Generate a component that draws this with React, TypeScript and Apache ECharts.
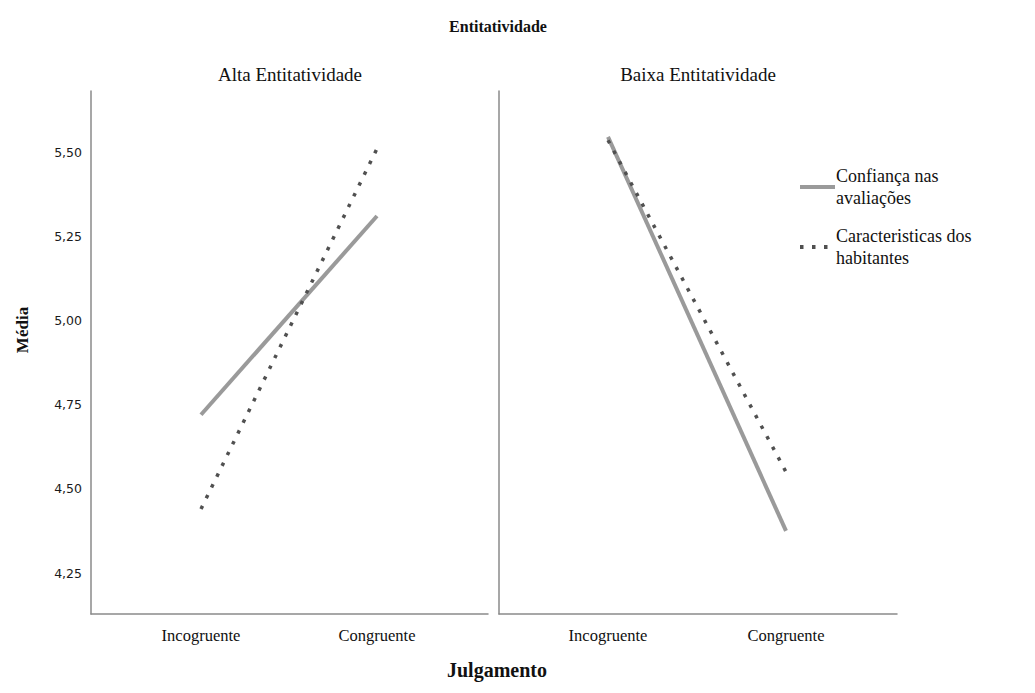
import React, { useEffect, useRef } from 'react';
import * as echarts from 'echarts';

const categories = ['Incogruente', 'Congruente'];
const panelTitles = ['Alta Entitatividade', 'Baixa Entitatividade'];
const seriesNames = ['Confiança nas avaliações', 'Caracteristicas dos habitantes'];
const legendLabels = ['Confiança nas\navaliações', 'Caracteristicas dos\nhabitantes'];
const confiancaAlta = [4.72, 5.31];
const caracteristicasAlta = [4.44, 5.51];
const confiancaBaixa = [5.545, 4.375];
const caracteristicasBaixa = [5.535, 4.55];
const yMin = 4.0;
const yMax = 5.75;
const yStep = 0.25;

const SERIF = "'Liberation Serif', 'Times New Roman', serif";

export default function App() {
  const ref = useRef<HTMLDivElement>(null);
  useEffect(() => {
    document.body.style.margin = '0';
    if (!ref.current) return;
    const chart = echarts.init(ref.current, undefined, { renderer: 'svg' });
    const axisColor = '#8a8a8a';
    const frameGrid = (left: number, width: number) => ({ left, top: 91, width, height: 523 });
    const dataGrid = (left: number, width: number) => ({ left, top: 67.8, width, height: 589.4 });
    const frameX = (gi: number) => ({
      type: 'value', gridIndex: gi, min: 0, max: 1,
      axisLine: { show: true, onZero: false, lineStyle: { color: axisColor, width: 1.5 } },
      axisTick: { show: false }, axisLabel: { show: false }, splitLine: { show: false },
    });
    const frameY = (gi: number) => ({
      type: 'value', gridIndex: gi, min: 0, max: 1,
      axisLine: { show: true, onZero: false, lineStyle: { color: axisColor, width: 1.5 } },
      axisTick: { show: false }, axisLabel: { show: false }, splitLine: { show: false },
    });
    const dataX = (gi: number) => ({
      type: 'category', gridIndex: gi, data: categories, boundaryGap: true, offset: -43.2,
      axisLine: { show: false }, axisTick: { show: false }, splitLine: { show: false },
      axisLabel: { show: true, margin: 13, color: '#111', fontFamily: SERIF, fontSize: 16.5 },
    });
    const dataY = (gi: number, showLabels: boolean, offset: number) => ({
      type: 'value', gridIndex: gi, min: yMin, max: yMax, interval: yStep, offset,
      axisLine: { show: false }, axisTick: { show: false }, splitLine: { show: false },
      axisLabel: {
        show: showLabels, margin: 9, color: '#1a1a1a', fontFamily: "'DejaVu Sans', sans-serif", fontSize: 12.5,
        formatter: (v: number) => (v < 4.2 || v > 5.6 ? '' : v.toFixed(2).replace('.', ',')),
      },
    });
    const solid = { color: '#9a9a9a', width: 4, cap: 'butt' };
    const dotted = { color: '#505050', width: 3.5, type: [3.5, 8.5], cap: 'butt' };
    const mk = (name: string, data: number[], idx: number, ls: any) => ({
      name, type: 'line', xAxisIndex: idx, yAxisIndex: idx, data, symbol: 'none', showSymbol: false,
      lineStyle: ls, itemStyle: { color: ls.color }, silent: true,
    });
    chart.setOption({
      animation: false,
      grid: [frameGrid(91, 397), frameGrid(499, 398), dataGrid(113, 352), dataGrid(519, 356)],
      xAxis: [frameX(0), frameX(1), dataX(2), dataX(3)],
      yAxis: [frameY(0), frameY(1), dataY(2, true, 22), dataY(3, false, 20)],
      legend: {
        orient: 'vertical', left: 793, top: 160, itemWidth: 35, itemHeight: 16, itemGap: 16,
        data: seriesNames,
        itemStyle: { opacity: 0 },
        lineStyle: { width: 4 },
        formatter: (name: string) => legendLabels[seriesNames.indexOf(name)],
        textStyle: { fontFamily: SERIF, fontSize: 18, color: '#111', lineHeight: 22, padding: [0, 0, 0, -4] },
      },
      graphic: [
        { type: 'text', x: 498, y: 26, style: { text: 'Entitatividade', font: `bold 16px ${SERIF}`, fill: '#111', textAlign: 'center', textVerticalAlign: 'middle' } },
        { type: 'text', x: 290, y: 74, style: { text: panelTitles[0], font: `19px ${SERIF}`, fill: '#111', textAlign: 'center', textVerticalAlign: 'middle' } },
        { type: 'text', x: 698, y: 74, style: { text: panelTitles[1], font: `19px ${SERIF}`, fill: '#111', textAlign: 'center', textVerticalAlign: 'middle' } },
        { type: 'text', x: 22, y: 330, rotation: Math.PI / 2, style: { text: 'Média', font: `bold 17px ${SERIF}`, fill: '#111', textAlign: 'center', textVerticalAlign: 'middle' } },
        { type: 'text', x: 497, y: 670, style: { text: 'Julgamento', font: `bold 20px ${SERIF}`, fill: '#111', textAlign: 'center', textVerticalAlign: 'middle' } },
      ],
      series: [
        mk(seriesNames[0], confiancaAlta, 2, solid),
        mk(seriesNames[1], caracteristicasAlta, 2, dotted),
        mk(seriesNames[0], confiancaBaixa, 3, solid),
        mk(seriesNames[1], caracteristicasBaixa, 3, dotted),
      ],
    });
    return () => chart.dispose();
  }, []);
  return <div ref={ref} style={{ width: 1035, height: 693 }} />;
}
